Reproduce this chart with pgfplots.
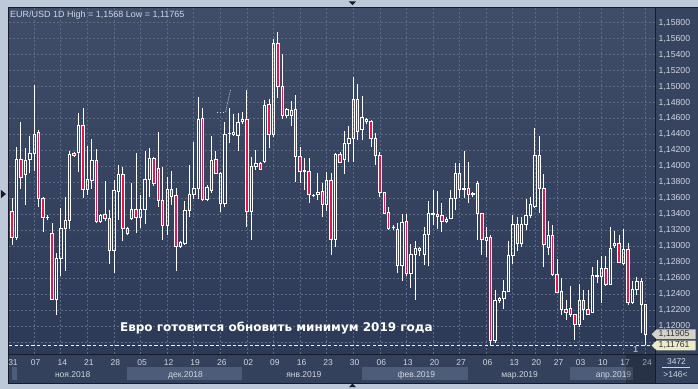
\documentclass[border=0pt]{standalone}
\usepackage{pgfplots}
\pgfplotsset{compat=1.18}
\usepackage{pgfplotstable}
\usepackage{fontspec}
\setmainfont{Liberation Sans}
\newfontfamily\dejavu{DejaVu Sans}

\definecolor{framec}{HTML}{BDC8D9}
\definecolor{bgtop}{HTML}{3F4D69}
\definecolor{bgbot}{HTML}{2C3A57}
\definecolor{panelc}{HTML}{36445F}
\definecolor{datec}{HTML}{33415C}
\definecolor{boxc}{HTML}{4D5C79}
\definecolor{gridc}{HTML}{5C6A86}
\definecolor{linec}{HTML}{151B29}
\definecolor{labelc}{HTML}{D0D6E2}
\definecolor{candred}{HTML}{E3174E}
\definecolor{tagA}{HTML}{D3D3CB}
\definecolor{tagB}{HTML}{EEE9C8}
\definecolor{bluec}{HTML}{8CB0E6}

\pgfplotstableread{
i o h l c
0 1.13520 1.13728 1.13458 1.13666
1 1.13437 1.13603 1.13020 1.13112
2 1.13112 1.14249 1.13083 1.14091
3 1.14091 1.14562 1.13716 1.13862
4 1.13903 1.14228 1.13516 1.14070
5 1.14083 1.14383 1.13916 1.14166
6 1.14166 1.15020 1.13945 1.14403
7 1.14424 1.14458 1.13499 1.13595
8 1.13595 1.13612 1.13178 1.13366
9 1.13358 1.13387 1.13328 1.13366
10 1.13166 1.13291 1.12333 1.12341
11 1.12341 1.12924 1.12145 1.12853
12 1.12853 1.13478 1.12624 1.13228
13 1.13228 1.13624 1.12695 1.13320
14 1.13324 1.14195 1.13220 1.14153
15 1.14166 1.14178 1.14124 1.14137
16 1.14174 1.14666 1.13937 1.14520
17 1.14520 1.14728 1.13603 1.13708
18 1.13708 1.14262 1.13645 1.13833
19 1.13824 1.14345 1.13716 1.14070
20 1.14070 1.14216 1.13291 1.13312
21 1.13312 1.13403 1.13299 1.13387
22 1.13395 1.13820 1.13312 1.13353
23 1.13353 1.13458 1.12778 1.12949
24 1.12949 1.13833 1.12666 1.13695
25 1.13687 1.14020 1.13333 1.13903
26 1.13903 1.13999 1.13062 1.13228
27 1.13228 1.13249 1.13137 1.13166
28 1.13353 1.13791 1.13333 1.13466
29 1.13466 1.14166 1.13166 1.13362
30 1.13362 1.13645 1.13228 1.13458
31 1.13458 1.14195 1.13278 1.13833
32 1.13833 1.14228 1.13612 1.14103
33 1.14103 1.14124 1.13762 1.13791
34 1.13978 1.14437 1.13499 1.13570
35 1.13570 1.13999 1.13083 1.13262
36 1.13262 1.13874 1.13145 1.13716
37 1.13716 1.13949 1.13520 1.13624
38 1.13633 1.13737 1.12687 1.12999
39 1.12999 1.13062 1.12987 1.13053
40 1.13041 1.13570 1.13020 1.13445
41 1.13445 1.14020 1.13374 1.13645
42 1.13645 1.14303 1.13595 1.13728
43 1.13728 1.14874 1.13595 1.14595
44 1.14603 1.14737 1.13562 1.13583
45 1.13583 1.13770 1.13570 1.13737
46 1.13695 1.14383 1.13674 1.14070
47 1.14083 1.14195 1.13908 1.13916
48 1.13541 1.13937 1.13428 1.13916
49 1.13541 1.14562 1.13499 1.14403
50 1.14412 1.14737 1.14291 1.14420
51 1.14407 1.14653 1.14387 1.14428
52 1.14395 1.14666 1.14195 1.14549
53 1.14562 1.14678 1.14528 1.14583
54 1.14591 1.14958 1.13249 1.13437
55 1.13437 1.14124 1.13083 1.13999
56 1.13999 1.14208 1.13958 1.14041
57 1.14041 1.14053 1.13958 1.13966
58 1.14062 1.14833 1.14053 1.14770
59 1.14778 1.14845 1.14228 1.14403
60 1.14403 1.15595 1.14374 1.15541
61 1.15541 1.15680 1.14853 1.14999
62 1.14999 1.15403 1.14595 1.14645
63 1.14637 1.14728 1.14612 1.14708
64 1.14645 1.14820 1.14512 1.14703
65 1.14708 1.14895 1.13812 1.14124
66 1.14124 1.14249 1.13791 1.13937
67 1.13933 1.14103 1.13708 1.13949
68 1.13937 1.14103 1.13541 1.13645
69 1.13633 1.13653 1.13612 1.13641
70 1.13653 1.13916 1.13583 1.13678
71 1.13687 1.13791 1.13362 1.13520
72 1.13520 1.13937 1.13437 1.13820
73 1.13820 1.13916 1.12887 1.13083
74 1.13083 1.14174 1.12987 1.14145
75 1.14145 1.14178 1.14041 1.14053
76 1.14083 1.14445 1.13903 1.14291
77 1.14291 1.14507 1.14062 1.14353
78 1.14353 1.15124 1.14062 1.14833
79 1.14833 1.15028 1.14333 1.14445
80 1.14458 1.14887 1.14333 1.14612
81 1.14562 1.14612 1.14528 1.14595
82 1.14562 1.14583 1.14249 1.14353
83 1.14353 1.14416 1.14020 1.14133
84 1.14133 1.14187 1.13624 1.13678
85 1.13678 1.13687 1.13403 1.13416
86 1.13424 1.13499 1.13208 1.13228
87 1.13237 1.13270 1.13208 1.13241
88 1.13208 1.13291 1.12666 1.12762
89 1.12762 1.13403 1.12570 1.13303
90 1.13312 1.13403 1.12624 1.12666
91 1.12666 1.13028 1.12478 1.12903
92 1.12903 1.13062 1.12333 1.12978
93 1.12978 1.12987 1.12874 1.12945
94 1.12903 1.13237 1.12762 1.13145
95 1.13145 1.13570 1.12749 1.13416
96 1.13403 1.13708 1.13262 1.13416
97 1.13403 1.13695 1.13220 1.13374
98 1.13383 1.13541 1.13178 1.13312
99 1.13312 1.13362 1.13291 1.13341
100 1.13353 1.13708 1.13345 1.13603
101 1.13603 1.14041 1.13458 1.13916
102 1.13916 1.14041 1.13603 1.13708
103 1.13708 1.14195 1.13603 1.13728
104 1.13728 1.14062 1.13541 1.13653
105 1.13653 1.13678 1.13624 1.13658
106 1.13791 1.13820 1.13083 1.13416
107 1.13416 1.13416 1.12895 1.13083
108 1.13070 1.13249 1.12862 1.13112
109 1.13112 1.13137 1.11765 1.11820
110 1.11820 1.12458 1.11791 1.12320
111 1.12320 1.12362 1.12291 1.12349
112 1.12353 1.12583 1.12220 1.12437
113 1.12437 1.13062 1.12429 1.12883
114 1.12883 1.13395 1.12778 1.13270
115 1.13270 1.13362 1.12937 1.13041
116 1.13041 1.13362 1.12999 1.13270
117 1.13270 1.13595 1.13208 1.13383
118 1.13383 1.13624 1.13353 1.13520
119 1.13499 1.14487 1.13487 1.14133
120 1.14133 1.14383 1.13416 1.13728
121 1.13728 1.13908 1.12737 1.13020
122 1.12987 1.13312 1.12895 1.13133
123 1.13133 1.13270 1.12624 1.12645
124 1.12653 1.12841 1.12416 1.12428
125 1.12437 1.12603 1.12145 1.12208
126 1.12208 1.12333 1.12083 1.12178
127 1.12228 1.12508 1.12112 1.12145
128 1.12145 1.12153 1.11833 1.12028
129 1.12028 1.12528 1.11991 1.12320
130 1.12320 1.12458 1.12083 1.12208
131 1.12208 1.12458 1.12145 1.12153
132 1.12178 1.12737 1.12166 1.12633
133 1.12624 1.12833 1.12541 1.12641
134 1.12624 1.12874 1.12291 1.12728
135 1.12728 1.12874 1.12499 1.12528
136 1.12528 1.13249 1.12520 1.12978
137 1.13012 1.13187 1.12978 1.13037
138 1.13041 1.13145 1.12791 1.12803
139 1.12791 1.13220 1.12770 1.12958
140 1.12958 1.13041 1.12262 1.12303
141 1.12303 1.12562 1.12278 1.12458
142 1.12458 1.12612 1.12387 1.12562
143 1.12562 1.12603 1.11916 1.12270
144 1.12270 1.12278 1.11761 1.11905
}\candles

\pgfplotsset{
  candleaxis/.style={
    at={(9pt,35pt)}, anchor=south west,
    scale only axis, width=646pt, height=346pt,
    xmin=0.316, xmax=146, ymin=1.116575, ymax=1.159825,
  },
}

\begin{document}
\begin{tikzpicture}
% frame and panels
\fill[framec] (0pt,0pt) rectangle (698pt,389pt);
\fill[panelc] (8pt,5pt) rectangle (698pt,381pt);
\fill[datec] (8pt,5pt) rectangle (698pt,34.5pt);
\fill[boxc] (11.7pt,8.3pt) rectangle (16.7pt,21.7pt);
\fill[boxc] (127.3pt,8.3pt) rectangle (242.6pt,21.7pt);
\fill[boxc] (362.3pt,8.3pt) rectangle (468.7pt,21.7pt);
\fill[boxc] (570.7pt,8.3pt) rectangle (633pt,21.7pt);

\begin{axis}[candleaxis,
  axis background/.style={top color=bgtop, bottom color=bgbot},
  axis line style={draw=none},
  grid=major,
  major grid style={gridc, dash pattern=on 2pt off 2pt, line width=0.6pt},
  major tick length=0pt,
  xtick={6,12,18,24,30,36,42,48,54,60,66,72,78,84,90,96,102,108,114,119,124,129,134,139,144},
  xticklabels={07,14,21,28,05,12,19,26,02,09,16,23,30,06,13,20,27,06,13,20,27,03,10,17,24},
  xticklabel style={font=\fontsize{8.5}{10}\selectfont, text=labelc, anchor=base, inner sep=0pt, yshift=-11.7pt, xshift=1.5pt},
  ytick={1.120,1.122,1.124,1.126,1.128,1.130,1.132,1.134,1.136,1.138,1.140,1.142,1.144,1.146,1.148,1.150,1.152,1.154,1.156,1.158},
  extra y ticks={1.118}, extra y tick labels={},
  extra y tick style={grid=major},
  scaled y ticks=false,
  yticklabel pos=right,
  y tick label style={font=\fontsize{8.7}{10}\selectfont, text=labelc, anchor=west, inner sep=0pt, xshift=4pt,
    /pgf/number format/.cd, fixed, fixed zerofill, precision=5, use comma},
  /pgf/number format/assume math mode=true,
]
% lower wicks
\addplot[draw=none, mark=none,
  error bars/.cd, y dir=plus, y explicit, error mark=none,
  error bar style={draw=white, line width=0.8pt}]
  table[x=i, y=l, y error expr={min(\thisrow{o},\thisrow{c})-\thisrow{l}}] {\candles};
% upper wicks
\addplot[draw=none, mark=none,
  error bars/.cd, y dir=plus, y explicit, error mark=none,
  error bar style={draw=white, line width=0.8pt}]
  table[x=i, y expr={max(\thisrow{o},\thisrow{c})}, y error expr={\thisrow{h}-max(\thisrow{o},\thisrow{c})}] {\candles};
% drawn annotation
\draw[white!70!gridc, dash pattern=on 1.5pt off 1.5pt, line width=0.7pt] (axis cs:47.2,1.14679) -- (axis cs:49.2,1.14679);
\draw[white!70!gridc, dash pattern=on 1pt off 1pt, line width=0.7pt] (axis cs:49.2,1.14679) -- (axis cs:50.3,1.14958);
\end{axis}

\begin{axis}[candleaxis, hide axis, ybar stacked, bar width=2.4pt]
\addplot[draw=none, fill=none] table[x=i, y expr={min(\thisrow{o},\thisrow{c})}] {\candles};
\addplot[draw=white, fill=none, line width=0.8pt] table[x=i, y expr={max(\thisrow{c}-\thisrow{o},0)}] {\candles};
\addplot[draw=white, fill=candred, line width=0.8pt] table[x=i, y expr={max(\thisrow{o}-\thisrow{c},0)}] {\candles};
\end{axis}

\begin{axis}[candleaxis, hide axis]
\addplot[white!88!gray, line width=1.3pt, dash pattern=on 3.3pt off 2.3pt] coordinates {(0.316,1.11761) (146,1.11761)};
\end{axis}

% header and overlay text
\node[anchor=base west, inner sep=0pt, text=labelc, font=\fontsize{9}{10}\selectfont] at (10pt,371.3pt) {EUR/USD 1D High = 1,1568 Low = 1,11765};
\node[anchor=base west, inner sep=0pt, text=white, font=\dejavu\bfseries\fontsize{12}{14}\selectfont] at (120pt,57.3pt) {Евро готовится обновить минимум 2019 года};
\node[text=bluec, font=\fontsize{9}{10}\selectfont\bfseries, inner sep=0pt] at (636pt,39.7pt) {1};

% borders
\draw[linec, line width=1pt] (8pt,381pt) -- (698pt,381pt);
\draw[linec, line width=1pt] (8.5pt,5pt) -- (8.5pt,381pt);
\draw[linec, line width=1pt] (8pt,34.5pt) -- (698pt,34.5pt);
\draw[linec, line width=1pt] (655.8pt,5pt) -- (655.8pt,381pt);
\draw[linec, line width=0.8pt] (8pt,5pt) -- (698pt,5pt);

% bottom labels
\node[anchor=base, inner sep=0pt, text=labelc, font=\fontsize{8.5}{10}\selectfont] at (13pt,23.3pt) {31};
\foreach \xx/\lab in {72.7/ноя.2018, 185.7/дек.2018, 304/янв.2019, 416.7/фев.2019, 520/мар.2019, 614/апр.2019}
  \node[anchor=base, inner sep=0pt, text=labelc, font=\fontsize{8.5}{10}\selectfont] at (\xx pt,11.7pt) {\lab};
\fill[black, opacity=0.22] (626.7pt,5.5pt) rectangle (655.3pt,34pt);
\node[anchor=base, inner sep=0pt, text=labelc, font=\fontsize{8.5}{10}\selectfont] at (677pt,24.3pt) {3472};
\draw[labelc, line width=0.6pt] (662pt,21.7pt) -- (690pt,21.7pt);
\node[anchor=base, inner sep=0pt, text=labelc, font=\fontsize{8.5}{10}\selectfont] at (676pt,11.7pt) {>146<};

% price tags
\fill[tagA] (652pt,54.5pt) -- (657pt,59.3pt) -- (696pt,59.3pt) -- (696pt,49.7pt) -- (657pt,49.7pt) -- cycle;
\node[anchor=west, inner sep=0pt, text=black!80, font=\fontsize{8.7}{10}\selectfont] at (659pt,54.5pt) {1,11905};
\fill[tagB] (652pt,43.3pt) -- (657pt,48.1pt) -- (696pt,48.1pt) -- (696pt,38.5pt) -- (657pt,38.5pt) -- cycle;
\node[anchor=west, inner sep=0pt, text=black!80, font=\fontsize{8.7}{10}\selectfont] at (659pt,43.3pt) {1,11761};

% small triangles
\fill[linec] (349.2pt,387.5pt) -- (356.2pt,387.5pt) -- (352.7pt,383.8pt) -- cycle;
\fill[linec] (349.2pt,1.5pt) -- (356.2pt,1.5pt) -- (352.7pt,5.2pt) -- cycle;
\fill[linec] (1pt,199pt) -- (1pt,190.7pt) -- (6pt,194.8pt) -- cycle;
\end{tikzpicture}
\end{document}
